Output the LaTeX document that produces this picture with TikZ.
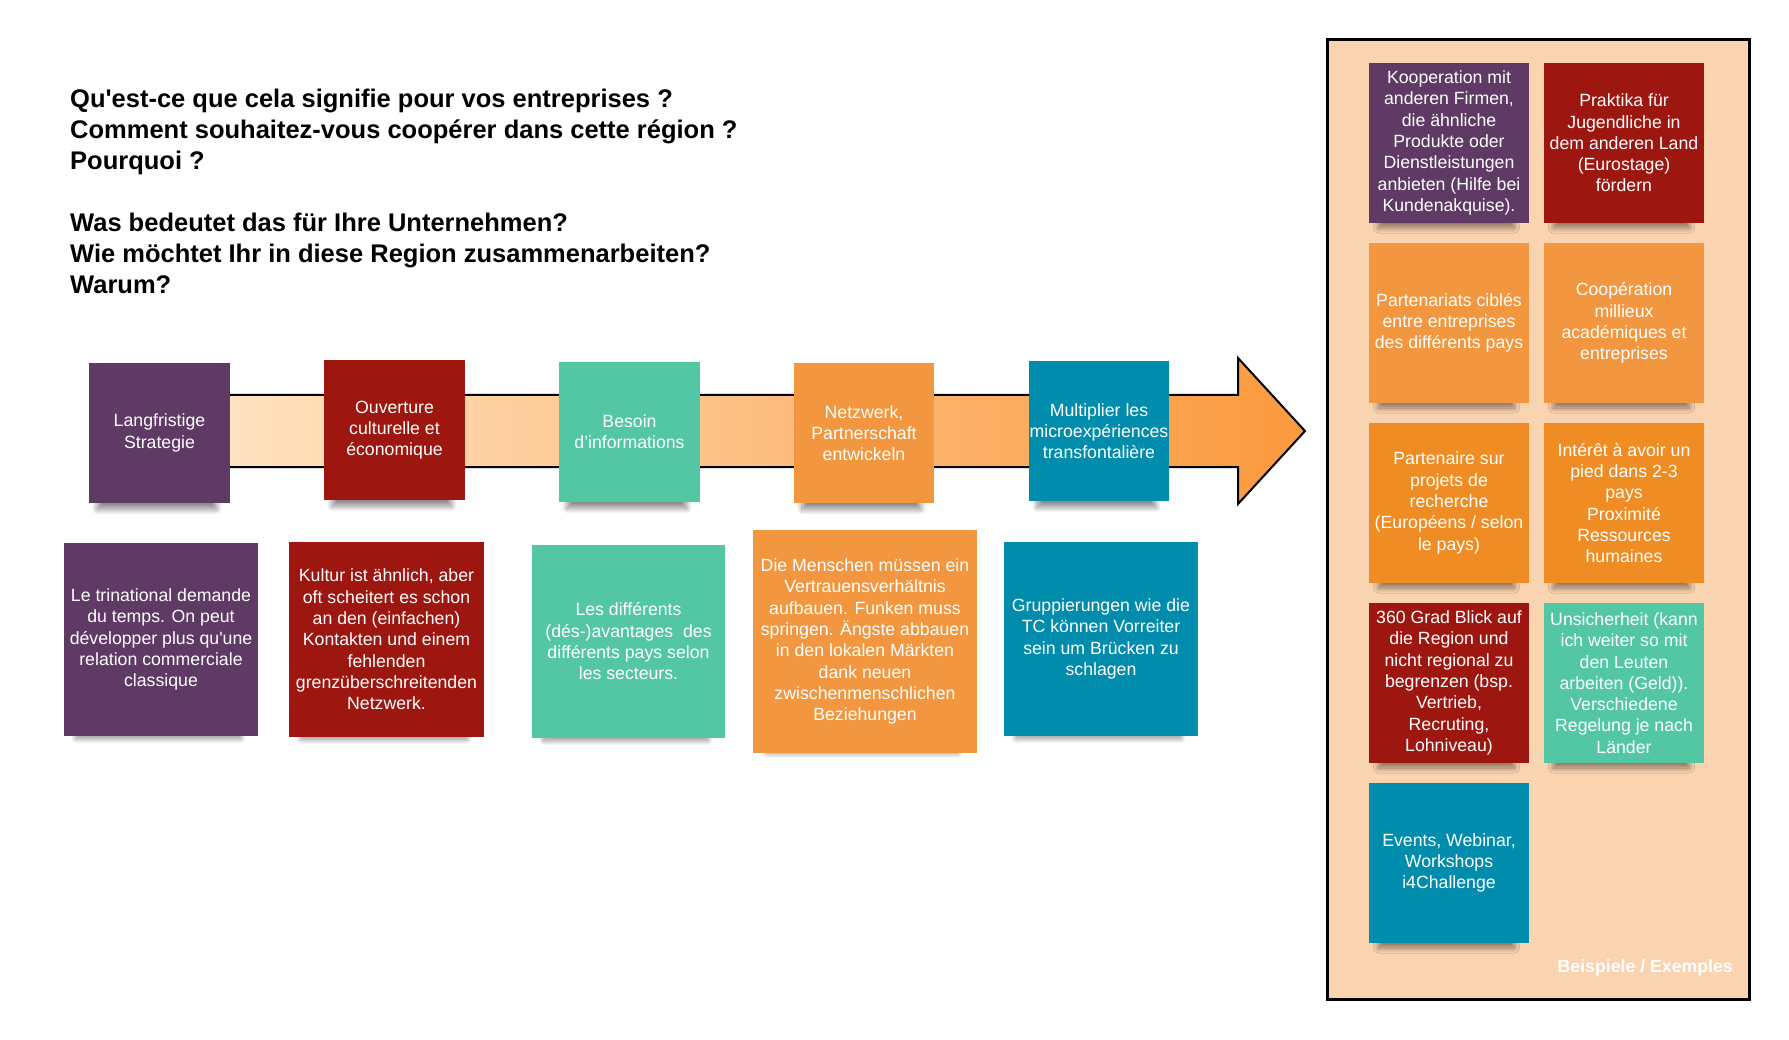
\documentclass[tikz,border=0pt]{standalone}
\usepackage{fontspec}
\setmainfont{Liberation Sans}[Ligatures=TeXOff]
\usepackage{tikz}
\usetikzlibrary{shadows.blur}

\definecolor{purpleA}{HTML}{5E3A65}
\definecolor{redA}{HTML}{9D160F}
\definecolor{tealA}{HTML}{53C6A3}
\definecolor{orangeA}{HTML}{F2963F}
\definecolor{orangeB}{HTML}{EF8C24}
\definecolor{blueA}{HTML}{008CAD}
\definecolor{panelA}{HTML}{FAD3B0}
\definecolor{arrowL}{HTML}{FFE4C4}
\definecolor{arrowR}{HTML}{FB993D}

\newcommand{\cardfont}{\fontsize{17.7}{21.3}\selectfont}
\newcommand{\askfont}{\fontsize{25.5}{30.9}\selectfont\bfseries}

\begin{document}
\begin{tikzpicture}[x=1pt,y=-1pt]
						\tikzstyle{card}=[rectangle,inner sep=0pt,align=center,text=white,font=\cardfont,
							blur shadow={shadow xshift=-3pt,shadow yshift=-20pt,shadow scale=0.85,shadow blur radius=6pt,shadow blur steps=24,shadow opacity=45}]
						\tikzstyle{stepbox}=[card,minimum width=141pt,minimum height=140pt]
						\tikzstyle{notebox}=[card,minimum width=194pt,minimum height=194pt]
						\tikzstyle{ideabox}=[card,minimum width=160pt,minimum height=160pt]
						\useasboundingbox (0,0) rectangle (1789,1040);
						% questions
						\node[anchor=base west,inner sep=0pt,align=left,font=\askfont](q1) at (70,169.5)
							{Qu'est-ce que cela signifie pour vos entreprises ?\\Comment souhaitez-vous coopérer dans cette région ?\\Pourquoi ?};
						\node[anchor=base west,inner sep=0pt,align=left,font=\askfont](q2) at (70,293.3)
							{Was bedeutet das für Ihre Unternehmen?\\Wie möchtet Ihr in diese Region zusammenarbeiten?\\Warum?};
						% arrow
						\path[left color=arrowL,right color=arrowR,draw=black,line width=2pt,line join=miter]
							(200,395) -- (1238,395) -- (1238,358) -- (1305,431) -- (1238,504) -- (1238,467) -- (200,467) -- cycle;
						% steps on the arrow
						\node[stepbox,fill=purpleA](t1) at (159.5,433) {Langfristige\\Strategie};
						\node[stepbox,fill=redA](t2) at (394.5,430) {Ouverture\\culturelle et\\économique};
						\node[stepbox,fill=tealA](t3) at (629.5,432) {Besoin\\d’informations};
						\node[stepbox,fill=orangeA,minimum width=140pt](t4) at (864,433) {Netzwerk,\\Partnerschaft\\entwickeln};
						\node[stepbox,fill=blueA,minimum width=140pt](t5) at (1099,431) {Multiplier les\\microexpériences\\transfontalière};
						% notes below
						\node[notebox,fill=purpleA,minimum height=193pt](b1) at (161,639.5) {Le trinational demande\\du temps. On peut\\développer plus qu'une\\relation commerciale\\classique};
						\node[notebox,fill=redA,minimum width=195pt,minimum height=195pt](b2) at (386.5,639.5) {Kultur ist ähnlich, aber\\oft scheitert es schon\\an den (einfachen)\\Kontakten und einem\\fehlenden\\grenzüberschreitenden\\Netzwerk.};
						\node[notebox,fill=tealA,minimum width=193pt,minimum height=193pt](b3) at (628.5,641.5) {Les différents\\(dés-)avantages\ \ des\\différents pays selon\\les secteurs.};
						\node[notebox,fill=orangeA,minimum width=224pt,minimum height=223pt](b4) at (865,641.5) {Die Menschen müssen ein\\Vertrauensverhältnis\\aufbauen. Funken muss\\springen. Ängste abbauen\\in den lokalen Märkten\\dank neuen\\zwischenmenschlichen\\Beziehungen};
						\node[notebox,fill=blueA](b5) at (1101,639) {Gruppierungen wie die\\TC können Vorreiter\\sein um Brücken zu\\schlagen};
						% examples panel
						\draw[fill=panelA,line width=3pt](1327.5,40) rectangle (1749,999);
						\node[ideabox,fill=purpleA](e1) at (1449,143) {Kooperation mit\\anderen Firmen,\\die ähnliche\\Produkte oder\\Dienstleistungen\\anbieten (Hilfe bei\\Kundenakquise).};
						\node[ideabox,fill=redA](e2) at (1624,143) {Praktika für\\Jugendliche in\\dem anderen Land\\(Eurostage)\\fördern};
						\node[ideabox,fill=orangeA](e3) at (1449,323) {Partenariats ciblés\\entre entreprises\\des différents pays};
						\node[ideabox,fill=orangeA](e4) at (1624,323) {Coopération\\millieux\\académiques et\\entreprises};
						\node[ideabox,fill=orangeB](e5) at (1449,503) {Partenaire sur\\projets de\\recherche\\(Européens / selon\\le pays)};
						\node[ideabox,fill=orangeB](e6) at (1624,503) {Intérêt à avoir un\\pied dans 2-3\\pays\\Proximité\\Ressources\\humaines};
						\node[ideabox,fill=redA](e7) at (1449,683) {360 Grad Blick auf\\die Region und\\nicht regional zu\\begrenzen (bsp.\\Vertrieb,\\Recruting,\\Lohniveau)};
						\node[ideabox,fill=tealA](e8) at (1624,683) {Unsicherheit (kann\\ich weiter so mit\\den Leuten\\arbeiten (Geld)).\\Verschiedene\\Regelung je nach\\Länder};
						\node[ideabox,fill=blueA](e9) at (1449,863) {Events, Webinar,\\Workshops\\i4Challenge};
						\node[anchor=base east,inner sep=0pt,text=white,font=\cardfont\bfseries](ex) at (1733,972.7) {Beispiele / Exemples};
					\end{tikzpicture}
\end{document}
